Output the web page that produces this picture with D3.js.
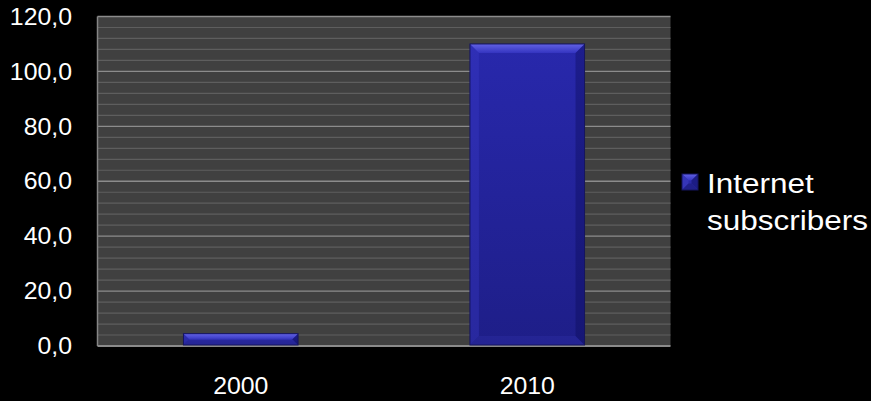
<!DOCTYPE html>
<html>
<head>
<meta charset="utf-8">
<script src="https://cdn.jsdelivr.net/npm/d3@7"></script>
<style>
  html, body { margin: 0; padding: 0; background: #000; }
  svg { display: block; }
  text { font-family: "Liberation Sans", Arial, sans-serif; fill: #fff; }
</style>
</head>
<body>
<svg id="chart" width="871" height="401"></svg>
<script>
// Chart data
const categories = ["2000", "2010"];
const seriesName = "Internet subscribers";
const seriesValues = [4.5, 110];
const yTickValues = [0, 20, 40, 60, 80, 100, 120];
const yDomain = [0, 120];
const minorStep = 4;

const svg = d3.select("#chart");
const plot = { left: 97.5, right: 670.5, top: 16.5, bottom: 346 };

const x = d3.scaleBand()
  .domain(categories)
  .range([plot.left, plot.right])
  .paddingInner(0.6)
  .paddingOuter(0.3);

const y = d3.scaleLinear().domain(yDomain).range([plot.bottom, plot.top]);

const fmt = d3.formatLocale({ decimal: ",", thousands: ".", grouping: [3], currency: ["", ""] }).format(".1f");

// Gradients
const defs = svg.append("defs");
const face = defs.append("linearGradient").attr("id", "barFace")
  .attr("x1", 0).attr("y1", 0).attr("x2", 0).attr("y2", 1);
face.append("stop").attr("offset", "0%").attr("stop-color", "#2828ac");
face.append("stop").attr("offset", "100%").attr("stop-color", "#1e1e88");
const topBevel = defs.append("linearGradient").attr("id", "barTop")
  .attr("x1", 0).attr("y1", 0).attr("x2", 0).attr("y2", 1);
topBevel.append("stop").attr("offset", "0%").attr("stop-color", "#6262e4");
topBevel.append("stop").attr("offset", "100%").attr("stop-color", "#3434c0");

// Plot background
svg.append("rect")
  .attr("x", plot.left).attr("y", plot.top)
  .attr("width", plot.right - plot.left).attr("height", plot.bottom - plot.top)
  .attr("fill", "#404040");

// Minor gridlines
const minorTicks = d3.range(yDomain[0], yDomain[1] + 0.001, minorStep)
  .filter(v => !yTickValues.includes(v));
svg.append("g").selectAll("line").data(minorTicks).join("line")
  .attr("x1", plot.left).attr("x2", plot.right)
  .attr("y1", d => y(d)).attr("y2", d => y(d))
  .attr("stroke", "#5e5e5e").attr("stroke-width", 1.2);

// Major gridlines
svg.append("g").selectAll("line").data(yTickValues.filter(v => v > 0)).join("line")
  .attr("x1", plot.left).attr("x2", plot.right)
  .attr("y1", d => y(d)).attr("y2", d => y(d))
  .attr("stroke", "#8c8c8c").attr("stroke-width", 1.3);

// Axis lines
svg.append("line")
  .attr("x1", plot.left).attr("x2", plot.left)
  .attr("y1", plot.top).attr("y2", plot.bottom)
  .attr("stroke", "#858585").attr("stroke-width", 1.5);
svg.append("line")
  .attr("x1", plot.left).attr("x2", plot.right)
  .attr("y1", plot.bottom).attr("y2", plot.bottom)
  .attr("stroke", "#8a8a8a").attr("stroke-width", 1.8);

// Beveled box
function bevelBox(g, x0, y0, x1, y1, b, faceFill, sides) {
  const pts = a => a.map(p => p.join(",")).join(" ");
  g.append("rect").attr("x", x0).attr("y", y0).attr("width", x1 - x0).attr("height", y1 - y0)
    .attr("fill", faceFill);
  g.append("polygon").attr("points", pts([[x0, y0], [x1, y0], [x1 - b, y0 + b], [x0 + b, y0 + b]]))
    .attr("fill", "url(#barTop)");
  g.append("polygon").attr("points", pts([[x0, y0], [x0 + b, y0 + b], [x0 + b, y1 - b], [x0, y1]]))
    .attr("fill", sides[0]);
  g.append("polygon").attr("points", pts([[x1, y0], [x1 - b, y0 + b], [x1 - b, y1 - b], [x1, y1]]))
    .attr("fill", sides[1]);
  g.append("polygon").attr("points", pts([[x0, y1], [x0 + b, y1 - b], [x1 - b, y1 - b], [x1, y1]]))
    .attr("fill", sides[2]);
  g.append("rect").attr("x", x0).attr("y", y0).attr("width", x1 - x0).attr("height", y1 - y0)
    .attr("fill", "none").attr("stroke", "#15155e").attr("stroke-width", 1);
}

// Bars
const barsG = svg.append("g");
categories.forEach((c, i) => {
  const x0 = x(c), x1 = x(c) + x.bandwidth();
  const y0 = y(seriesValues[i]), y1 = y(0);
  const b = Math.min(9, (y1 - y0) / 2);
  bevelBox(barsG.append("g"), x0, y0, x1, y1 - 1, b, "url(#barFace)",
    ["rgba(60,60,200,0.35)", "rgba(10,10,80,0.35)", "rgba(50,50,170,0.35)"]);
});

// Y tick labels
svg.append("g").selectAll("text").data(yTickValues).join("text")
  .attr("transform", d => `translate(72,${y(d)}) scale(1.08,1)`)
  .attr("text-anchor", "end")
  .attr("dominant-baseline", "central")
  .attr("font-size", 23)
  .text(d => fmt(d));

// X tick labels
svg.append("g").selectAll("text").data(categories).join("text")
  .attr("transform", d => `translate(${x(d) + x.bandwidth() / 2},394) scale(1.08,1)`)
  .attr("text-anchor", "middle")
  .attr("font-size", 23)
  .text(d => d);

// Legend
const lg = svg.append("g");
bevelBox(lg.append("g"), 682, 174, 698, 190, 6.5, "#2a2aa8", ["#3535b8", "#1c1c84", "#20208a"]);
const words = seriesName.split(" ");
lg.selectAll("text").data(words).join("text")
  .attr("transform", (d, i) => `translate(707,${193.3 + i * 36.7}) scale(1.125,1)`)
  .attr("font-size", 28)
  .text(d => d);
</script>
</body>
</html>
